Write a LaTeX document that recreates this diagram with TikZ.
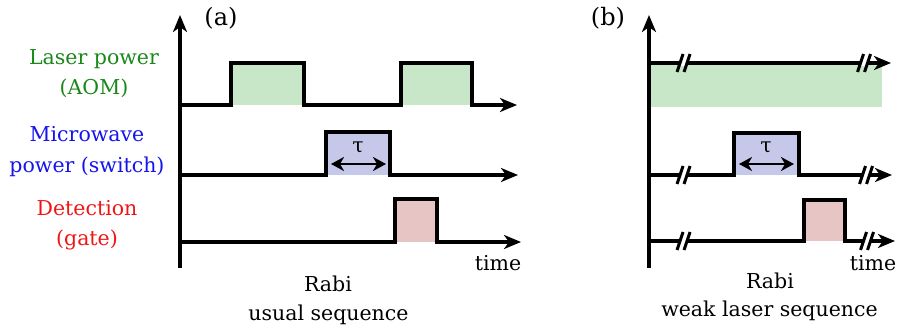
\documentclass[tikz,border=0pt]{standalone}
\usepackage{fontspec}
\setmainfont{DejaVu Serif}
\usetikzlibrary{arrows.meta}
\definecolor{lgreen}{RGB}{200,231,200}
\definecolor{lblue}{RGB}{197,200,232}
\definecolor{lred}{RGB}{232,197,197}
\definecolor{tgreen}{RGB}{25,135,25}
\definecolor{tblue}{RGB}{20,20,235}
\definecolor{tred}{RGB}{240,20,20}
\newcommand\tbreak[2]{%
  \fill[white] (#1-3.5,#2-2.8) rectangle (#1+3.5,#2+2.8);
  \draw[brkline] (#1-3.5-3,#2+9) -- (#1-3.5+3,#2-9);
  \draw[brkline] (#1+3.5-3,#2+9) -- (#1+3.5+3,#2-9);}
\tikzset{
  sig/.style={line width=3.4pt},
  axisarrow/.style={sig,-{Stealth[length=17pt,width=14pt,inset=5pt]}},
  brkline/.style={line width=3pt},
  tauarrow/.style={line width=2.8pt,{Stealth[length=13pt,width=14pt,inset=4pt]}-{Stealth[length=13pt,width=14pt,inset=4pt]}},
  lbl/.style={anchor=base,font=\fontsize{20.5}{24}\selectfont,inner sep=0pt},
  plbl/.style={anchor=base,font=\fontsize{24}{28}\selectfont,inner sep=0pt}
}
\begin{document}
\begin{tikzpicture}[x=1pt,y=-1pt]
\useasboundingbox (0,0) rectangle (897,334);
% ---------- labels ----------
\node[lbl,text=tgreen] (l1) at (94,65) {Laser power};
\node[lbl,text=tgreen] (l2) at (94,95) {(AOM)};
\node[lbl,text=tblue] (m1) at (87,141.5) {Microwave};
\node[lbl,text=tblue] (m2) at (87,172.5) {power (switch)};
\node[lbl,text=tred] (d1) at (87,215.5) {Detection};
\node[lbl,text=tred] (d2) at (87,245) {(gate)};
% ---------- panel (a) ----------
\node[plbl] (pa) at (221,26) {(a)};
\fill[lgreen] (231,63) rectangle (304,105);
\fill[lgreen] (401,63) rectangle (472,105);
\fill[lblue] (326,132) rectangle (390,175);
\fill[lred] (395,199) rectangle (437,242);
\draw[axisarrow] (180,268) -- (180,15);
\draw[axisarrow] (180,105) -- (231,105) -- (231,63) -- (304,63) -- (304,105) -- (401,105) -- (401,63) -- (472,63) -- (472,105) -- (517,105);
\draw[axisarrow] (180,175) -- (326,175) -- (326,132) -- (390,132) -- (390,175) -- (518,175);
\draw[axisarrow] (180,242) -- (395,242) -- (395,199) -- (437,199) -- (437,242) -- (521,242);
\coordinate (ta1) at (331,164);
\coordinate (ta2) at (386,164);
\draw[tauarrow] (ta1) -- (ta2);
\node[lbl] (taua) at (358,153) {τ};
\node[lbl] (timea) at (498,270) {time};
\node[lbl] (rabia) at (328,291) {Rabi};
\node[lbl] (seqa) at (328.5,320.5) {usual sequence};
% ---------- panel (b) ----------
\node[plbl] (pb) at (608,26) {(b)};
\fill[lgreen] (649,63) rectangle (882,107);
\fill[lblue] (734,133) rectangle (799,175);
\fill[lred] (804,200) rectangle (845,241);
\draw[axisarrow] (649,268) -- (649,15);
\draw[axisarrow] (649,63) -- (891,63);
\draw[axisarrow] (649,175) -- (734,175) -- (734,133) -- (799,133) -- (799,175) -- (892,175);
\draw[axisarrow] (649,241) -- (804,241) -- (804,200) -- (845,200) -- (845,241) -- (895,241);
\tbreak{683.5}{63}
\tbreak{864}{63}
\tbreak{683.5}{175}
\tbreak{866}{175}
\tbreak{683.5}{241}
\tbreak{867}{241}
\coordinate (tb1) at (739,164);
\coordinate (tb2) at (794,164);
\draw[tauarrow] (tb1) -- (tb2);
\node[lbl] (taub) at (766,153) {τ};
\node[lbl] (timeb) at (873,270) {time};
\node[lbl] (rabib) at (770,288) {Rabi};
\node[lbl] (seqb) at (769.5,316.5) {weak laser sequence};
\end{tikzpicture}
\end{document}
